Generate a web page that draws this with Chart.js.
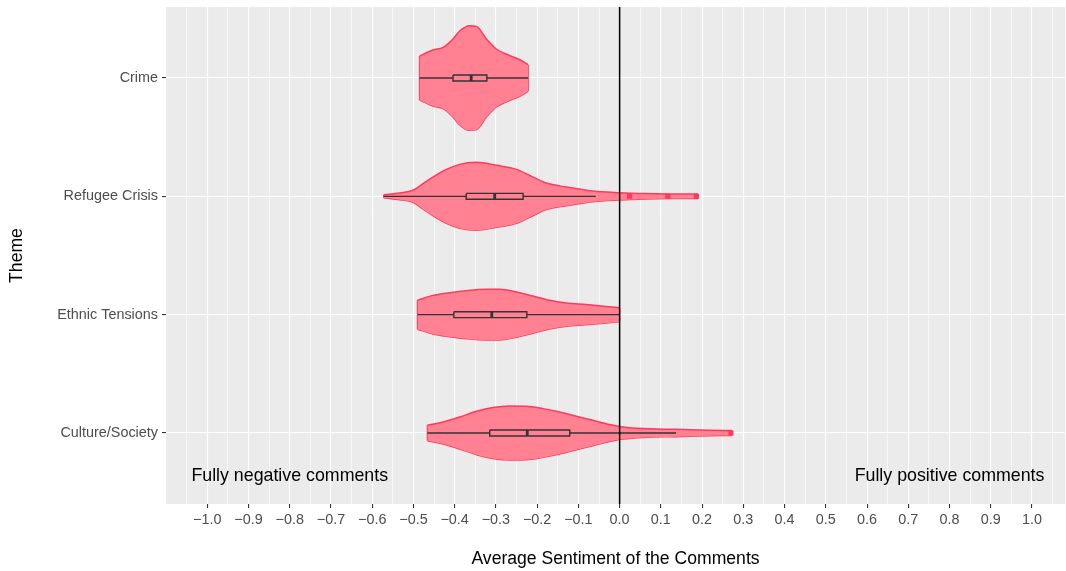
<!DOCTYPE html>
<html><head><meta charset="utf-8">
<script src="https://cdn.jsdelivr.net/npm/chart.js@4.4.1/dist/chart.umd.min.js"></script>
<style>html,body{margin:0;padding:0;background:#fff;overflow:hidden}#wrap{width:1066px;height:571px;position:relative}</style>
</head><body><div id="wrap"><canvas id="c"></canvas></div>
<script>
// ---------- DATA ----------
const themes = ['Crime', 'Refugee Crisis', 'Ethnic Tensions', 'Culture/Society'];

// violin outlines: sentiment grid and half-widths (category units)
const crimeX = [-0.485, -0.453, -0.428, -0.404, -0.388, -0.364, -0.347, -0.323, -0.299, -0.267, -0.243, -0.222];
const crimeW = [0.186, 0.237, 0.259, 0.330, 0.397, 0.442, 0.436, 0.330, 0.245, 0.190, 0.156, 0.112];
const refugeeX = [-0.572, -0.533, -0.501, -0.477, -0.453, -0.42, -0.388, -0.347, -0.299, -0.25, -0.218, -0.178, -0.129, -0.065, 0.0, 0.065, 0.13, 0.19];
const refugeeW = [0.013, 0.028, 0.051, 0.107, 0.163, 0.228, 0.270, 0.287, 0.262, 0.228, 0.177, 0.112, 0.079, 0.045, 0.031, 0.023, 0.019, 0.019];
const ethnicX = [-0.49, -0.453, -0.412, -0.372, -0.323, -0.291, -0.25, -0.21, -0.17, -0.129, -0.081, -0.032, 0.0];
const ethnicW = [0.123, 0.163, 0.186, 0.203, 0.214, 0.214, 0.191, 0.157, 0.121, 0.098, 0.085, 0.070, 0.059];
const cultureX = [-0.466, -0.428, -0.388, -0.347, -0.307, -0.267, -0.226, -0.186, -0.145, -0.105, -0.065, -0.024, 0.008, 0.057, 0.137, 0.218, 0.272];
const cultureW = [0.066, 0.093, 0.135, 0.183, 0.215, 0.228, 0.226, 0.206, 0.177, 0.141, 0.107, 0.071, 0.051, 0.037, 0.031, 0.023, 0.021];

// box plot statistics per theme
const whiskerLow = [-0.485, -0.572, -0.49, -0.466];
const q1 = [-0.404, -0.372, -0.402, -0.315];
const median = [-0.36, -0.303, -0.31, -0.224];
const q3 = [-0.322, -0.234, -0.225, -0.121];
const whiskerHigh = [-0.222, -0.058, 0.0, 0.137];
const outliers = [[], [0.024, 0.117, 0.186], [], [0.27]];

// axis ticks
const xMajorTicks = [-1.0, -0.9, -0.8, -0.7, -0.6, -0.5, -0.4, -0.3, -0.2, -0.1, 0.0, 0.1, 0.2, 0.3, 0.4, 0.5, 0.6, 0.7, 0.8, 0.9, 1.0];
const xTickLabels = ['\u22121.0', '\u22120.9', '\u22120.8', '\u22120.7', '\u22120.6', '\u22120.5', '\u22120.4', '\u22120.3', '\u22120.2', '\u22120.1', '0.0', '0.1', '0.2', '0.3', '0.4', '0.5', '0.6', '0.7', '0.8', '0.9', '1.0'];
const xMinorTicks = [-1.05, -0.95, -0.85, -0.75, -0.65, -0.55, -0.45, -0.35, -0.25, -0.15, -0.05, 0.05, 0.15, 0.25, 0.35, 0.45, 0.55, 0.65, 0.75, 0.85, 0.95, 1.05];
const referenceLine = 0;

// annotations
const annotationLabels = ['Fully negative comments', 'Fully positive comments'];
const annotationX = [-0.8, 0.8];
const annotationY = [4.367, 4.367];

// ---------- STYLE ----------
const FONT = 'Liberation Sans, Arial, Helvetica, sans-serif';
const violinFill = '#FF8192';
const violinLine = '#FF3A5C';
const boxLine = '#333333';
const boxHalf = 0.025;
const X_MIN = -1.1, X_MAX = 1.08, Y_MIN = 0.4, Y_MAX = 4.6;

const violins = [[crimeX, crimeW], [refugeeX, refugeeW], [ethnicX, ethnicW], [cultureX, cultureW]];
const datasets = [];
const k = v => Math.round(v * 100);
const majorSet = new Set(xMajorTicks.map(k));

violins.forEach(([xs, ws], i) => {
  const c = i + 1;
  const common = {borderColor: violinLine, borderWidth: 1.5, pointRadius: 0, order: 5};
  datasets.push(Object.assign({}, common, {
    data: xs.map((x, j) => ({x, y: c - ws[j]})),
    cubicInterpolationMode: 'monotone', fill: '+1', backgroundColor: violinFill
  }));
  datasets.push(Object.assign({}, common, {
    data: xs.map((x, j) => ({x, y: c + ws[j]})),
    cubicInterpolationMode: 'monotone', fill: false
  }));
  const n = xs.length - 1;
  datasets.push(Object.assign({}, common, {data: [{x: xs[0], y: c - ws[0]}, {x: xs[0], y: c + ws[0]}], fill: false, tension: 0}));
  datasets.push(Object.assign({}, common, {data: [{x: xs[n], y: c - ws[n]}, {x: xs[n], y: c + ws[n]}], fill: false, tension: 0}));
});

themes.forEach((t, i) => {
  const c = i + 1;
  const lineCommon = {borderColor: boxLine, pointRadius: 0, fill: false, tension: 0, order: 3};
  datasets.push(Object.assign({}, lineCommon, {borderWidth: 1.4, data: [{x: whiskerLow[i], y: c}, {x: q1[i], y: c}]}));
  datasets.push(Object.assign({}, lineCommon, {borderWidth: 1.4, data: [{x: q3[i], y: c}, {x: whiskerHigh[i], y: c}]}));
  datasets.push(Object.assign({}, lineCommon, {borderWidth: 1.4, data: [
    {x: q1[i], y: c - boxHalf}, {x: q3[i], y: c - boxHalf}, {x: q3[i], y: c + boxHalf}, {x: q1[i], y: c + boxHalf}, {x: q1[i], y: c - boxHalf}
  ]}));
  datasets.push(Object.assign({}, lineCommon, {borderWidth: 2.8, borderCapStyle: 'butt', data: [{x: median[i], y: c - boxHalf}, {x: median[i], y: c + boxHalf}]}));
  if (outliers[i].length) {
    datasets.push({data: outliers[i].map(x => ({x, y: c})), showLine: false, pointStyle: 'rect', pointRadius: 3.6,
      pointBackgroundColor: 'rgba(255,50,85,0.9)', pointBorderColor: 'rgba(255,50,85,0.9)', pointBorderWidth: 0, order: 2});
  }
});

datasets.push({data: [{x: referenceLine, y: Y_MIN}, {x: referenceLine, y: Y_MAX}], borderColor: '#000', borderWidth: 1.5,
  pointRadius: 0, fill: false, tension: 0, order: 1});

const panelBg = {
  id: 'panelBg',
  beforeDraw(chart) {
    const {ctx, chartArea: a} = chart;
    ctx.save(); ctx.fillStyle = '#EBEBEB'; ctx.fillRect(a.left, a.top, a.right - a.left, a.bottom - a.top); ctx.restore();
  }
};
const annotate = {
  id: 'annotate',
  afterDatasetsDraw(chart) {
    const {ctx, scales: {x, y}} = chart;
    ctx.save();
    ctx.font = '17.8px ' + FONT; ctx.fillStyle = '#000'; ctx.textAlign = 'center'; ctx.textBaseline = 'middle';
    annotationLabels.forEach((l, i) => ctx.fillText(l, x.getPixelForValue(annotationX[i]), y.getPixelForValue(annotationY[i])));
    ctx.restore();
  }
};

new Chart(document.getElementById('c'), {
  type: 'line',
  data: {datasets},
  plugins: [panelBg, annotate],
  options: {
    responsive: true, maintainAspectRatio: false, animation: false, devicePixelRatio: 1,
    layout: {autoPadding: false, padding: {top: 7, right: 1, left: 0, bottom: 0}},
    plugins: {legend: {display: false}, tooltip: {enabled: false}},
    scales: {
      x: {
        type: 'linear', min: X_MIN, max: X_MAX,
        afterBuildTicks: s => { s.ticks = xMajorTicks.concat(xMinorTicks).sort((a, b) => a - b).map(v => ({value: v})); },
        afterFit: s => { s.height = 67; s.paddingLeft = 0; s.paddingRight = 0; },
        ticks: {
          autoSkip: false, maxRotation: 0, padding: 3, color: '#4D4D4D', font: {family: FONT, size: 14.4},
          callback: v => majorSet.has(k(v)) ? xTickLabels[xMajorTicks.findIndex(m => k(m) === k(v))] : ''
        },
        grid: {
          color: '#FFFFFF',
          lineWidth: c => (c.tick && majorSet.has(k(c.tick.value))) ? 1.1 : 0.55,
          tickColor: c => (c.tick && majorSet.has(k(c.tick.value))) ? '#333333' : 'rgba(0,0,0,0)',
          tickLength: 4, tickWidth: 1.1
        },
        border: {display: false},
        title: {display: true, text: 'Average Sentiment of the Comments', color: '#000',
          font: {family: FONT, size: 17.6}, padding: {top: 0, bottom: 1.5}}
      },
      y: {
        type: 'linear', min: Y_MIN, max: Y_MAX, reverse: true,
        afterBuildTicks: s => { s.ticks = themes.map((t, i) => ({value: i + 1})); },
        afterFit: s => { s.width = 166; s.paddingTop = 0; s.paddingBottom = 0; },
        ticks: {autoSkip: false, padding: 4, color: '#4D4D4D', font: {family: FONT, size: 14.4},
          callback: v => themes[Math.round(v) - 1]},
        grid: {color: '#FFFFFF', lineWidth: 1.1, tickColor: '#333333', tickLength: 4, tickWidth: 1.1},
        border: {display: false},
        title: {display: true, text: 'Theme', color: '#000', font: {family: FONT, size: 17.6}, padding: {top: 6.4, bottom: 0}}
      }
    }
  }
});
</script></body></html>
